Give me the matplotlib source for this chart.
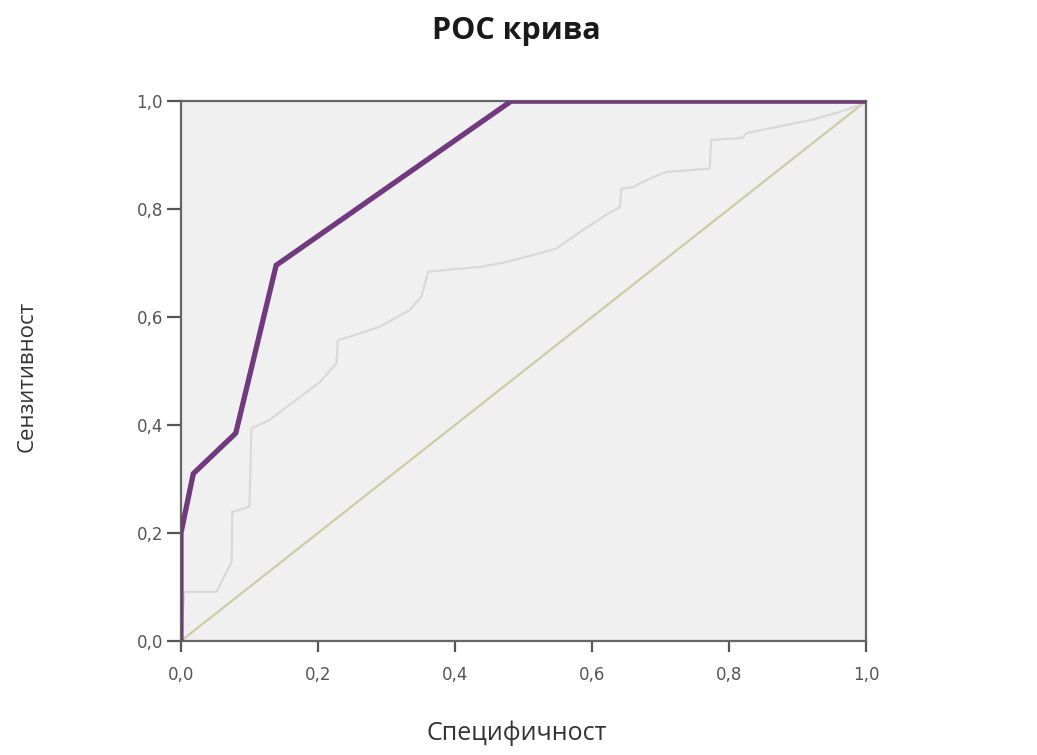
import matplotlib
matplotlib.use("Agg")
import matplotlib.pyplot as plt

# Main ROC curve (purple)
roc_x = [0.0, 0.0, 0.018, 0.080, 0.139, 0.482, 1.0]
roc_y = [0.0, 0.200, 0.310, 0.385, 0.696, 1.0, 1.0]

# Secondary ROC curve (light gray, stepped)
ref_x = [0.0, 0.005, 0.052, 0.074, 0.075, 0.100, 0.103, 0.130, 0.203, 0.227, 0.229,
         0.247, 0.290, 0.334, 0.351, 0.361, 0.383, 0.437, 0.475, 0.520, 0.548, 0.583,
         0.620, 0.641, 0.643, 0.660, 0.685, 0.709, 0.772, 0.774, 0.820, 0.826, 0.865,
         0.923, 0.962, 0.991, 1.0]
ref_y = [0.0, 0.091, 0.091, 0.147, 0.239, 0.249, 0.394, 0.410, 0.480, 0.514, 0.557,
         0.564, 0.582, 0.613, 0.638, 0.684, 0.687, 0.693, 0.702, 0.717, 0.727, 0.758,
         0.789, 0.804, 0.838, 0.841, 0.857, 0.869, 0.875, 0.928, 0.932, 0.941, 0.951,
         0.966, 0.980, 0.993, 1.0]

# Reference diagonal
diag = [0.0, 1.0]

ticks = [0.0, 0.2, 0.4, 0.6, 0.8, 1.0]
tick_labels = ["0,0", "0,2", "0,4", "0,6", "0,8", "1,0"]

title = "РОС крива"
xlabel = "Специфичност"
ylabel = "Сензитивност"

fig = plt.figure(figsize=(10.37, 7.55), dpi=100)
ax = fig.add_axes([0.1745, 0.151, 0.6605, 0.715])
ax.set_facecolor("#f0f0f0")

ax.plot(diag, diag, color="#cdcca2", lw=1.6, zorder=2)
ax.plot(ref_x, ref_y, color="#d9d9d9", lw=1.6, zorder=3)
ax.plot(roc_x, roc_y, color="#713a7e", lw=3.8, zorder=4, solid_joinstyle="miter")

ax.set_xlim(0, 1)
ax.set_ylim(0, 1)
ax.set_xticks(ticks)
ax.set_yticks(ticks)
ax.set_xticklabels(tick_labels)
ax.set_yticklabels(tick_labels)

for s in ax.spines.values():
    s.set_color("#666666")
    s.set_linewidth(1.6)

ax.tick_params(axis="both", direction="out", width=1.6, color="#555555",
               labelsize=12, labelcolor="#555555")
ax.tick_params(axis="x", length=8, pad=10)
ax.tick_params(axis="y", length=10, pad=3)

fig.text(0.498, 0.948, title, ha="center", va="baseline", fontsize=22,
         fontweight="bold", family="Open Sans", color="#1a1a1a")
fig.text(0.498, 0.029, xlabel, ha="center", va="center", fontsize=18,
         family="Open Sans", color="#333333")
fig.text(0.026, 0.502, ylabel, ha="center", va="center", fontsize=16,
         family="Open Sans", color="#333333", rotation=90)

fig.savefig("out.png", dpi=100, facecolor="white")
